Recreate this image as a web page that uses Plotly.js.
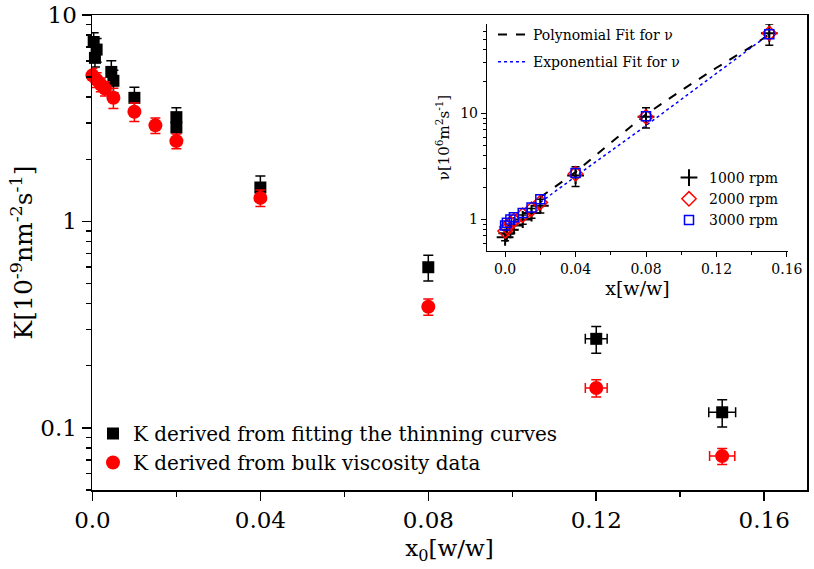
<!DOCTYPE html>
<html>
<head>
<meta charset="utf-8">
<script src="https://cdn.plot.ly/plotly-3.0.1.min.js"></script>
<style>html,body{margin:0;padding:0;background:#fff;}#chart{width:814px;height:569px;}</style>
</head>
<body>
<div id="chart"></div>
<script>
// ---- Main plot data: K vs x0 ----
const fitX   = [0.0003, 0.001, 0.0006, 0.0045, 0.005, 0.010, 0.020, 0.020, 0.040, 0.080, 0.120, 0.150];
const fitK   = [7.4, 6.8, 6.2, 5.3, 4.8, 3.97, 3.2, 2.85, 1.46, 0.60, 0.27, 0.119];
const fitKerr= [0.8, 0.9, 0.6, 0.7, 0.6, 0.5, 0.35, 0.3, 0.2, 0.085, 0.04, 0.018];
const fitXerr= [0, 0, 0, 0, 0, 0, 0, 0, 0, 0, 0.0026, 0.0032];

const bulkX   = [0.0, 0.001, 0.002, 0.003, 0.005, 0.010, 0.015, 0.020, 0.040, 0.080, 0.120, 0.150];
const bulkK   = [5.1, 4.85, 4.6, 4.4, 3.97, 3.4, 2.92, 2.45, 1.30, 0.386, 0.156, 0.073];
const bulkKerr= [0.4, 0.4, 0.35, 0.35, 0.45, 0.35, 0.25, 0.2, 0.12, 0.035, 0.015, 0.0065];
const bulkXerr= [0, 0, 0, 0, 0, 0, 0, 0, 0, 0, 0.0026, 0.003];

// ---- Inset data: nu vs x ----
const nuX     = [0.0, 0.001, 0.003, 0.005, 0.010, 0.015, 0.020, 0.040, 0.080, 0.150];
const nu1000  = [0.68, 0.74, 0.80, 0.88, 1.00, 1.15, 1.35, 2.60, 9.3, 57];
const nu1000e = [0.05, 0.06, 0.07, 0.08, 0.10, 0.12, 0.20, 0.55, 2.0, 13];
const nu2000  = [0.78, 0.85, 0.92, 0.98, 1.10, 1.25, 1.45, 2.70, 9.3, 57];
const nu3000  = [0.88, 0.93, 1.00, 1.05, 1.15, 1.30, 1.55, 2.75, 9.4, 56];

const polyX = [0.020, 0.040, 0.060, 0.080, 0.100, 0.120, 0.140, 0.150];
const polyY = [1.62, 2.80, 5.3, 9.8, 16.5, 27, 43, 56];
const expX  = [0.020, 0.040, 0.080, 0.120, 0.150];
const expY  = [1.45, 2.55, 7.7, 24, 56];

// tick labels
const xTickVals = [0, 0.04, 0.08, 0.12, 0.16];
const xTickText = ["0.0", "0.04", "0.08", "0.12", "0.16"];
const kTickVals = [0.1, 1, 10];
const kTickText = ["0.1", "1", "10"];
const nuTickVals = [1, 10];
const nuTickText = ["1", "10"];

function logMinors(decades){
  const out=[];
  decades.forEach(d=>{for(let m=2;m<=9;m++) out.push(m*d);});
  return out;
}

const F = "DejaVu Serif, serif";

const traces = [
  {x: fitX, y: fitK, type:'scatter', mode:'markers', name:'K derived from fitting the thinning curves',
   marker:{symbol:'square', size:12, color:'#000'},
   error_y:{type:'data', array: fitKerr, color:'#000', thickness:1.5, width:5},
   error_x:{type:'data', array: fitXerr, color:'#000', thickness:1.5, width:5},
   cliponaxis:false, legend:'legend'},
  {x: bulkX, y: bulkK, type:'scatter', mode:'markers', name:'K derived from bulk viscosity data',
   marker:{symbol:'circle', size:14, color:'#ff0000'},
   error_y:{type:'data', array: bulkKerr, color:'#ff0000', thickness:1.5, width:5},
   error_x:{type:'data', array: bulkXerr, color:'#ff0000', thickness:1.5, width:5},
   cliponaxis:false, legend:'legend'},
  // inset
  {x: polyX, y: polyY, xaxis:'x2', yaxis:'y2', type:'scatter', mode:'lines', name:'Polynomial Fit for ν',
   line:{color:'#000', width:2, dash:'dash'}, legend:'legend2', legendgroup:'p'},
  {x: expX, y: expY, xaxis:'x2', yaxis:'y2', type:'scatter', mode:'lines', name:'Exponential Fit for ν',
   line:{color:'#0000ff', width:1.5, dash:'dot'}, legend:'legend2', legendgroup:'e'},
  {x: nuX, y: nu1000, xaxis:'x2', yaxis:'y2', type:'scatter', mode:'markers', name:'1000 rpm',
   marker:{symbol:'cross-thin', size:12, line:{color:'#000', width:2}},
   error_y:{type:'data', array: nu1000e, color:'#000', thickness:1.5, width:4},
   legend:'legend3', legendgroup:'a', cliponaxis:false},
  {x: nuX, y: nu2000, xaxis:'x2', yaxis:'y2', type:'scatter', mode:'markers', name:'2000 rpm',
   marker:{symbol:'diamond-open', size:11, color:'#ff0000', line:{width:1.5}},
   legend:'legend3', legendgroup:'b', cliponaxis:false},
  {x: nuX, y: nu3000, xaxis:'x2', yaxis:'y2', type:'scatter', mode:'markers', name:'3000 rpm',
   marker:{symbol:'square-open', size:9, color:'#0000ff', line:{width:1.5}},
   legend:'legend3', legendgroup:'c', cliponaxis:false}
];

const layout = {
  width:814, height:569,
  margin:{l:92, r:7, t:15, b:79},
  paper_bgcolor:'#fff', plot_bgcolor:'#fff',
  font:{family:F, color:'#000', size:18},
  showlegend:true,
  xaxis:{
    range:[-0.0001, 0.1702], showgrid:false, zeroline:false,
    showline:true, linecolor:'#000', linewidth:1.5, mirror:true,
    ticks:'outside', ticklen:9, tickwidth:1.5, tickcolor:'#000',
    tickmode:'array', tickvals:xTickVals, ticktext:xTickText,
    tickfont:{family:F, size:23},
    minor:{tickvals:[0.02,0.06,0.10,0.14], ticks:'outside', ticklen:5, tickwidth:1.5, tickcolor:'#000', showgrid:false},
    title:{text:'x<sub>0</sub>[w/w]', font:{family:F, size:23}, standoff:8}
  },
  yaxis:{
    type:'log', range:[-1.301, 1.0], showgrid:false, zeroline:false,
    showline:true, linecolor:'#000', linewidth:1.5, mirror:true,
    ticks:'outside', ticklen:9, tickwidth:1.5, tickcolor:'#000',
    tickmode:'array', tickvals:kTickVals, ticktext:kTickText,
    tickfont:{family:F, size:23},
    minor:{tickvals:logMinors([0.01,0.1,1]), ticks:'outside', ticklen:5, tickwidth:1.5, tickcolor:'#000', showgrid:false},
    title:{text:'K[10<sup>-9</sup>nm<sup>-2</sup>s<sup>-1</sup>]', font:{family:F, size:25}, standoff:0}
  },
  xaxis2:{
    domain:[0.5524, 0.9734], anchor:'y2', range:[-0.0103, 0.1606],
    showgrid:false, zeroline:false, showline:true, linecolor:'#000', linewidth:1.2,
    ticks:'outside', ticklen:5, tickwidth:1, tickcolor:'#000',
    tickmode:'array', tickvals:xTickVals, ticktext:xTickText,
    tickfont:{family:F, size:14},
    minor:{tickvals:[0.02,0.06,0.10,0.14], ticks:'outside', ticklen:3, tickwidth:1, tickcolor:'#000', showgrid:false},
    title:{text:'x[w/w]', font:{family:F, size:19}, standoff:2}
  },
  yaxis2:{
    domain:[0.5032, 0.981], anchor:'x2', type:'log', range:[-0.297, 1.844],
    showgrid:false, zeroline:false, showline:true, linecolor:'#000', linewidth:1.2,
    ticks:'outside', ticklen:5, tickwidth:1, tickcolor:'#000',
    tickmode:'array', tickvals:nuTickVals, ticktext:nuTickText,
    tickfont:{family:F, size:14},
    minor:{tickvals:logMinors([0.1,1,10]), ticks:'outside', ticklen:3, tickwidth:1, tickcolor:'#000', showgrid:false},
    title:{text:'ν[10<sup>6</sup>m<sup>2</sup>s<sup>-1</sup>]', font:{family:F, size:15}, standoff:6}
  },
  legend:{
    x:(93-92)/715, y:(490-414)/475, xanchor:'left', yanchor:'top',
    bgcolor:'rgba(0,0,0,0)', borderwidth:0, font:{family:F, size:20},
    itemwidth:30, tracegroupgap:0
  },
  legend2:{
    x:(493-92)/715, y:(490-19)/475, xanchor:'left', yanchor:'top',
    bgcolor:'rgba(0,0,0,0)', borderwidth:0, font:{family:F, size:14},
    itemwidth:30, tracegroupgap:6
  },
  legend3:{
    x:(669-92)/715, y:(490-162)/475, xanchor:'left', yanchor:'top',
    bgcolor:'rgba(0,0,0,0)', borderwidth:0, font:{family:F, size:14},
    itemwidth:30, tracegroupgap:0
  }
};

Plotly.newPlot('chart', traces, layout, {displayModeBar:false, staticPlot:true});
</script>
</body>
</html>
